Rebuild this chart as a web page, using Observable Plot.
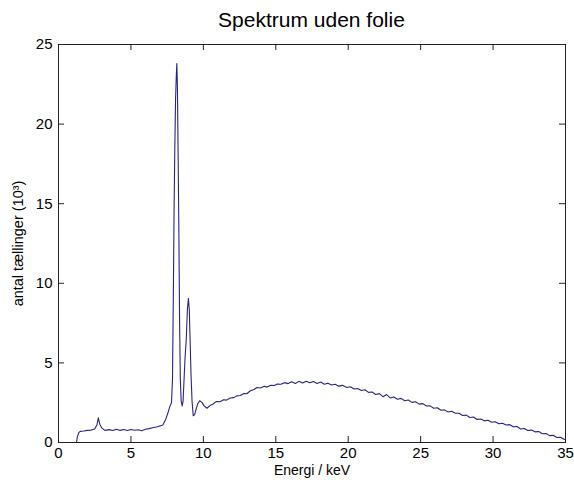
<!DOCTYPE html>
<html>
<head>
<meta charset="utf-8">
<script src="https://cdn.jsdelivr.net/npm/d3@7"></script>
<script src="https://cdn.jsdelivr.net/npm/@observablehq/plot@0.6"></script>
<style>
  html, body { margin: 0; padding: 0; background: #fff; }
  #wrap { width: 574px; height: 482px; position: relative; }
  #title { position: absolute; left: 58px; width: 507px; top: 8px; text-align: center;
           font-family: "Liberation Sans", Arial, sans-serif; font-size: 21px; color: #000; }
  #chart { position: absolute; left: 0; top: 34px; }
</style>
</head>
<body>
<div id="wrap">
  <div id="title">Spektrum uden folie</div>
  <div id="chart"></div>
</div>
<script>
const titleText = "Spektrum uden folie";
const xLabel = "Energi / keV";
const yLabel = "antal tællinger (10³)";
const xTicks = [0, 5, 10, 15, 20, 25, 30, 35];
const yTicks = [0, 5, 10, 15, 20, 25];

// energy in keV
const energy = [
  1.24, 1.30, 1.40, 1.50, 1.75, 2.00, 2.25, 2.50, 2.65, 2.75, 2.85, 3.00, 3.20, 3.50, 3.75,
  4.00, 4.25, 4.50, 4.75, 5.00, 5.25, 5.50, 5.75, 6.00, 6.25, 6.50, 6.75, 7.00, 7.20, 7.40,
  7.55, 7.70, 7.80, 7.87, 7.93, 7.98, 8.03, 8.08, 8.13, 8.17, 8.21, 8.26, 8.31, 8.36, 8.41,
  8.47, 8.54, 8.60, 8.66, 8.73, 8.82, 8.90, 8.97, 9.03, 9.09, 9.15, 9.22, 9.30, 9.40, 9.50,
  9.62, 9.75, 9.90, 10.05, 10.25, 10.45, 10.65, 10.90, 11.15, 11.40, 11.60, 11.85, 12.10, 12.30, 12.55,
  12.80, 13.00, 13.25, 13.50, 13.70, 13.95, 14.20, 14.40, 14.65, 14.90, 15.10, 15.35, 15.60, 15.85, 16.10,
  16.35, 16.60, 16.85, 17.10, 17.35, 17.60, 17.85, 18.10, 18.35, 18.60, 18.85, 19.10, 19.35, 19.60, 19.90,
  20.15, 20.40, 20.65, 20.90, 21.15, 21.40, 21.65, 21.90, 22.15, 22.40, 22.65, 22.90, 23.15, 23.40, 23.65,
  23.90, 24.15, 24.40, 24.65, 24.90, 25.15, 25.40, 25.65, 25.90, 26.15, 26.40, 26.65, 26.90, 27.15, 27.40,
  27.65, 27.90, 28.15, 28.40, 28.65, 28.90, 29.15, 29.40, 29.65, 29.90, 30.15, 30.40, 30.65, 30.90, 31.15,
  31.40, 31.65, 31.90, 32.15, 32.40, 32.65, 32.90, 33.15, 33.40, 33.65, 33.90, 34.15, 34.40, 34.65, 34.90,
  35.00
];
// counts in thousands
const counts = [
  0.00, 0.35, 0.62, 0.70, 0.72, 0.76, 0.78, 0.85, 1.10, 1.55, 1.15, 0.90, 0.76, 0.81, 0.75,
  0.83, 0.76, 0.82, 0.75, 0.82, 0.77, 0.80, 0.74, 0.83, 0.87, 0.93, 0.97, 1.04, 1.10, 1.45,
  1.85, 2.30, 2.50, 4.00, 9.50, 14.70, 18.50, 21.50, 23.00, 23.80, 22.30, 18.00, 13.20, 7.50, 4.00,
  2.60, 2.30, 2.60, 3.80, 5.20, 6.50, 8.40, 9.05, 8.30, 6.30, 4.20, 2.60, 1.68, 1.75, 2.10,
  2.45, 2.62, 2.52, 2.30, 2.15, 2.32, 2.40, 2.58, 2.56, 2.69, 2.66, 2.80, 2.82, 2.93, 2.95,
  3.08, 3.06, 3.25, 3.33, 3.45, 3.42, 3.53, 3.48, 3.60, 3.58, 3.67, 3.66, 3.76, 3.70, 3.82,
  3.71, 3.84, 3.74, 3.85, 3.75, 3.83, 3.71, 3.80, 3.66, 3.72, 3.61, 3.66, 3.54, 3.59, 3.46,
  3.50, 3.36, 3.39, 3.27, 3.31, 3.15, 3.17, 3.02, 3.07, 2.88, 3.01, 2.80, 2.86, 2.72, 2.77,
  2.62, 2.67, 2.52, 2.56, 2.41, 2.44, 2.29, 2.30, 2.15, 2.18, 2.03, 2.05, 1.92, 1.96, 1.84,
  1.84, 1.70, 1.72, 1.57, 1.60, 1.45, 1.48, 1.36, 1.40, 1.27, 1.30, 1.18, 1.21, 1.10, 1.12,
  0.99, 1.00, 0.85, 0.88, 0.75, 0.78, 0.67, 0.69, 0.55, 0.57, 0.43, 0.45, 0.31, 0.33, 0.20,
  0.18
];

const data = energy.map((e, i) => ({energy: e, counts: counts[i]}));

const W = 574, H = 448, mt = 10, mb = 40, ml = 58, mr = 9;
const innerH = H - mt - mb, innerW = W - ml - mr;
const tk = 6;
const font = "Liberation Sans, Arial, sans-serif";

const chart = Plot.plot({
  width: W,
  height: H,
  marginTop: mt,
  marginBottom: mb,
  marginLeft: ml,
  marginRight: mr,
  style: {fontFamily: font, fontSize: "15px", color: "#000", background: "#fff"},
  x: {domain: [0, 35]},
  y: {domain: [0, 25]},
  marks: [
    Plot.line(data, {x: "energy", y: "counts", stroke: "#262682", strokeWidth: 1.1}),
    Plot.frame({stroke: "#222", strokeWidth: 1}),
    // inward ticks on all four sides
    Plot.tickX(xTicks, {x: d => d, insetTop: innerH - tk, stroke: "#222"}),
    Plot.tickX(xTicks, {x: d => d, insetBottom: innerH - tk, stroke: "#222"}),
    Plot.tickY(yTicks, {y: d => d, insetRight: innerW - tk, stroke: "#222"}),
    Plot.tickY(yTicks, {y: d => d, insetLeft: innerW - tk, stroke: "#222"}),
    Plot.axisX({ticks: xTicks, tickSize: 0, tickPadding: 5, label: null, fontSize: 15}),
    Plot.axisY({ticks: yTicks, tickSize: 0, tickPadding: 6, label: null, fontSize: 15}),
    Plot.text([xLabel], {text: d => d, frameAnchor: "bottom", dy: 32, fontSize: 14}),
    Plot.text([yLabel], {text: d => d, frameAnchor: "left", textAnchor: "middle", dx: -40, rotate: -90, fontSize: 14.5})
  ]
});
document.getElementById("chart").appendChild(chart);
</script>
</body>
</html>
